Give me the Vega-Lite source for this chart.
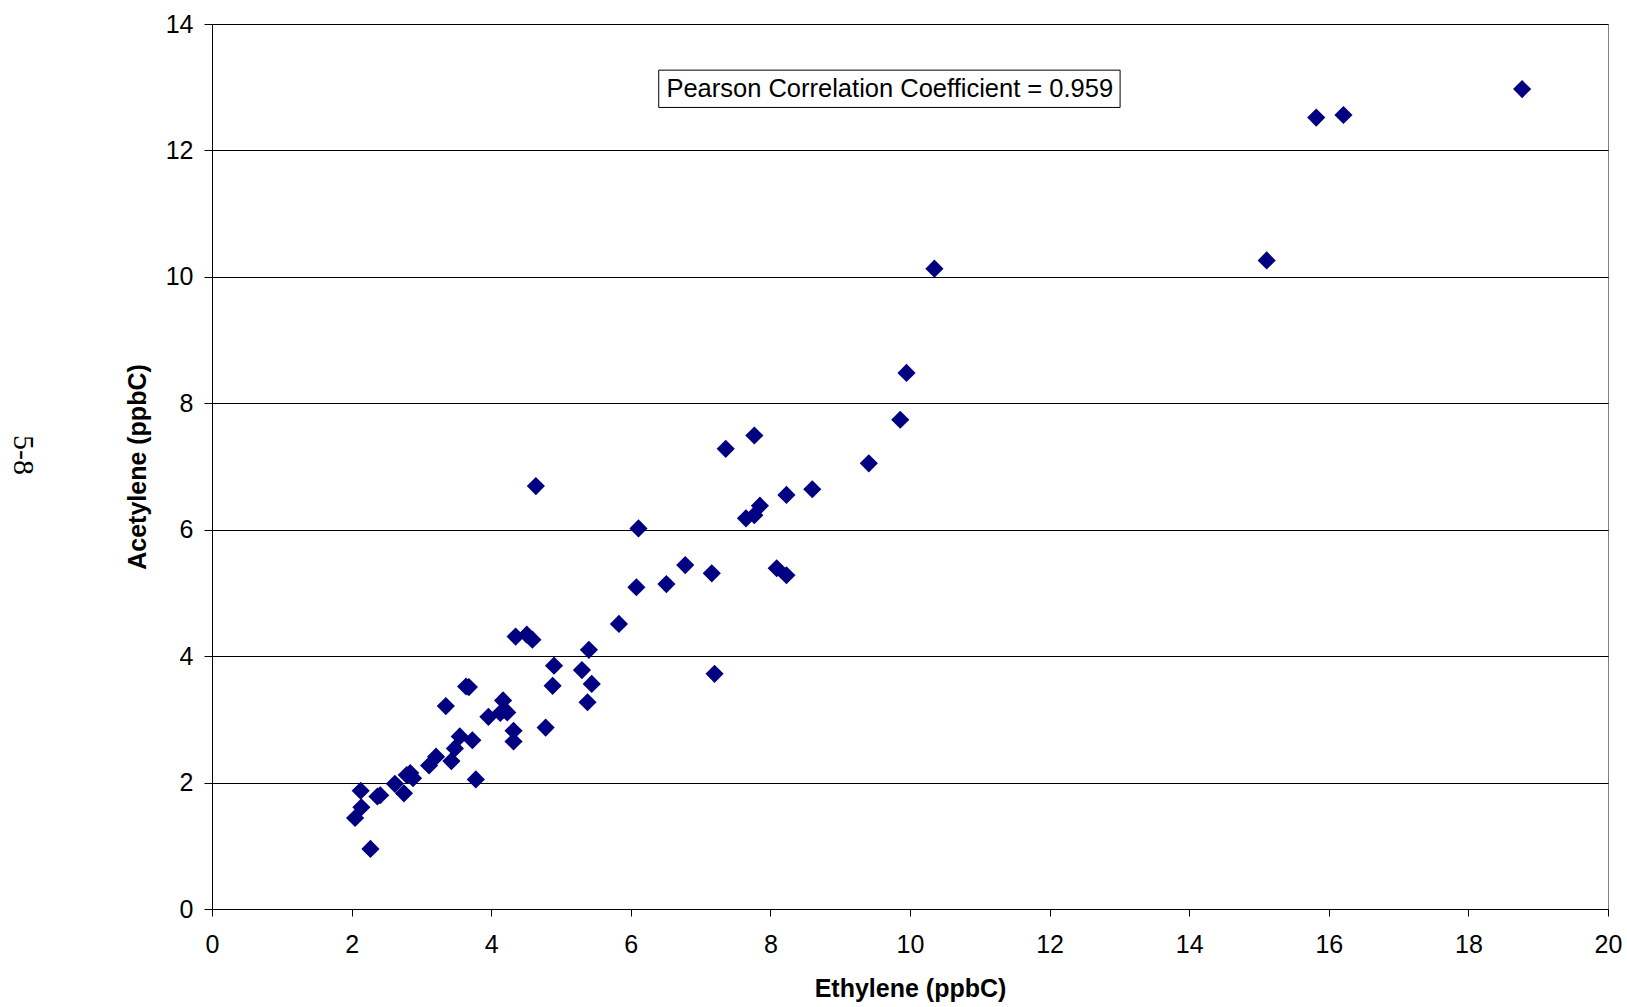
{
  "$schema": "https://vega.github.io/schema/vega-lite/v6.json",
  "width": 1396,
  "height": 885,
  "autosize": {"type": "none"},
  "padding": {"left": 212, "top": 24, "right": 19, "bottom": 98},
  "background": "white",
  "config": {
    "view": {"stroke": "#808080", "strokeWidth": 1},
    "font": "Liberation Sans"
  },
  "data": {
    "values": [
      {"ethylene": 18.77, "acetylene": 12.97},
      {"ethylene": 16.21, "acetylene": 12.56},
      {"ethylene": 15.82, "acetylene": 12.52},
      {"ethylene": 15.11, "acetylene": 10.26},
      {"ethylene": 10.35, "acetylene": 10.13},
      {"ethylene": 9.95, "acetylene": 8.48},
      {"ethylene": 9.86, "acetylene": 7.74},
      {"ethylene": 9.41, "acetylene": 7.05},
      {"ethylene": 8.60, "acetylene": 6.64},
      {"ethylene": 8.23, "acetylene": 6.55},
      {"ethylene": 7.77, "acetylene": 7.49},
      {"ethylene": 7.36, "acetylene": 7.28},
      {"ethylene": 7.85, "acetylene": 6.38},
      {"ethylene": 7.77, "acetylene": 6.23},
      {"ethylene": 7.65, "acetylene": 6.18},
      {"ethylene": 8.09, "acetylene": 5.39},
      {"ethylene": 8.23, "acetylene": 5.28},
      {"ethylene": 7.16, "acetylene": 5.31},
      {"ethylene": 7.20, "acetylene": 3.72},
      {"ethylene": 6.78, "acetylene": 5.44},
      {"ethylene": 6.51, "acetylene": 5.14},
      {"ethylene": 6.08, "acetylene": 5.09},
      {"ethylene": 6.11, "acetylene": 6.02},
      {"ethylene": 5.83, "acetylene": 4.51},
      {"ethylene": 5.40, "acetylene": 4.10},
      {"ethylene": 5.30, "acetylene": 3.78},
      {"ethylene": 5.44, "acetylene": 3.56},
      {"ethylene": 5.38, "acetylene": 3.27},
      {"ethylene": 4.90, "acetylene": 3.85},
      {"ethylene": 4.88, "acetylene": 3.53},
      {"ethylene": 4.78, "acetylene": 2.87},
      {"ethylene": 4.64, "acetylene": 6.69},
      {"ethylene": 4.51, "acetylene": 4.34},
      {"ethylene": 4.59, "acetylene": 4.26},
      {"ethylene": 4.35, "acetylene": 4.31},
      {"ethylene": 4.32, "acetylene": 2.82},
      {"ethylene": 4.32, "acetylene": 2.65},
      {"ethylene": 4.17, "acetylene": 3.30},
      {"ethylene": 4.13, "acetylene": 3.10},
      {"ethylene": 4.23, "acetylene": 3.11},
      {"ethylene": 3.96, "acetylene": 3.04},
      {"ethylene": 3.64, "acetylene": 3.52},
      {"ethylene": 3.68, "acetylene": 3.51},
      {"ethylene": 3.35, "acetylene": 3.21},
      {"ethylene": 3.73, "acetylene": 2.67},
      {"ethylene": 3.55, "acetylene": 2.73},
      {"ethylene": 3.78, "acetylene": 2.05},
      {"ethylene": 3.48, "acetylene": 2.54},
      {"ethylene": 3.43, "acetylene": 2.34},
      {"ethylene": 3.21, "acetylene": 2.41},
      {"ethylene": 3.11, "acetylene": 2.27},
      {"ethylene": 2.84, "acetylene": 2.15},
      {"ethylene": 2.79, "acetylene": 2.12},
      {"ethylene": 2.88, "acetylene": 2.07},
      {"ethylene": 2.62, "acetylene": 1.98},
      {"ethylene": 2.75, "acetylene": 1.83},
      {"ethylene": 2.41, "acetylene": 1.80},
      {"ethylene": 2.37, "acetylene": 1.78},
      {"ethylene": 2.13, "acetylene": 1.87},
      {"ethylene": 2.14, "acetylene": 1.61},
      {"ethylene": 2.05, "acetylene": 1.44},
      {"ethylene": 2.27, "acetylene": 0.95}
    ]
  },
  "layer": [
    {
      "mark": {"type": "point", "shape": "diamond", "filled": true, "color": "#000080", "size": 330, "opacity": 1},
      "encoding": {
        "x": {
          "field": "ethylene",
          "type": "quantitative",
          "scale": {"domain": [0, 20], "nice": false, "zero": true},
          "axis": {
            "title": "Ethylene (ppbC)",
            "titleFontSize": 25,
            "titleFontWeight": "bold",
            "titleColor": "black",
            "titleFont": "Liberation Sans",
            "titleY": 79,
            "titleBaseline": "middle",
            "labelFontSize": 25,
            "labelColor": "black",
            "labelFont": "Liberation Sans",
            "labelPadding": 16,
            "labelFlush": false,
            "labelOverlap": false,
            "format": "d",
            "tickColor": "black",
            "tickSize": 7,
            "domainColor": "black",
            "grid": false,
            "values": [0, 2, 4, 6, 8, 10, 12, 14, 16, 18, 20]
          }
        },
        "y": {
          "field": "acetylene",
          "type": "quantitative",
          "scale": {"domain": [0, 14], "nice": false, "zero": true},
          "axis": {
            "title": "Acetylene (ppbC)",
            "titleFontSize": 25,
            "titleFontWeight": "bold",
            "titleColor": "black",
            "titleFont": "Liberation Sans",
            "titleX": -75,
            "titleY": 442.5,
            "titleAngle": -90,
            "titleAlign": "center",
            "titleBaseline": "middle",
            "labelFontSize": 25,
            "labelColor": "black",
            "labelFont": "Liberation Sans",
            "labelPadding": 11,
            "labelFlush": false,
            "labelOverlap": false,
            "format": "d",
            "tickColor": "black",
            "tickSize": 8,
            "domainColor": "black",
            "grid": true,
            "gridColor": "black",
            "gridOpacity": 1,
            "gridWidth": 1,
            "values": [0, 2, 4, 6, 8, 10, 12, 14]
          }
        }
      }
    },
    {
      "data": {"values": [{}]},
      "mark": {"type": "rect", "fill": "white", "stroke": "black", "strokeWidth": 1},
      "encoding": {
        "x": {"datum": 6.4, "type": "quantitative"},
        "x2": {"datum": 13.01},
        "y": {"datum": 13.27, "type": "quantitative"},
        "y2": {"datum": 12.68}
      }
    },
    {
      "data": {"values": [{}]},
      "mark": {"type": "text", "text": "Pearson Correlation Coefficient = 0.959", "fontSize": 25.5, "font": "Liberation Sans", "align": "center", "baseline": "middle", "color": "black"},
      "encoding": {
        "x": {"datum": 9.71, "type": "quantitative"},
        "y": {"datum": 12.97, "type": "quantitative"}
      }
    },
    {
      "data": {"values": [{}]},
      "mark": {"type": "text", "text": "5-8", "angle": 90, "fontSize": 30, "font": "Liberation Serif", "align": "center", "baseline": "middle", "color": "black"},
      "encoding": {
        "x": {"datum": -2.71, "type": "quantitative"},
        "y": {"datum": 7.18, "type": "quantitative"}
      }
    }
  ]
}
